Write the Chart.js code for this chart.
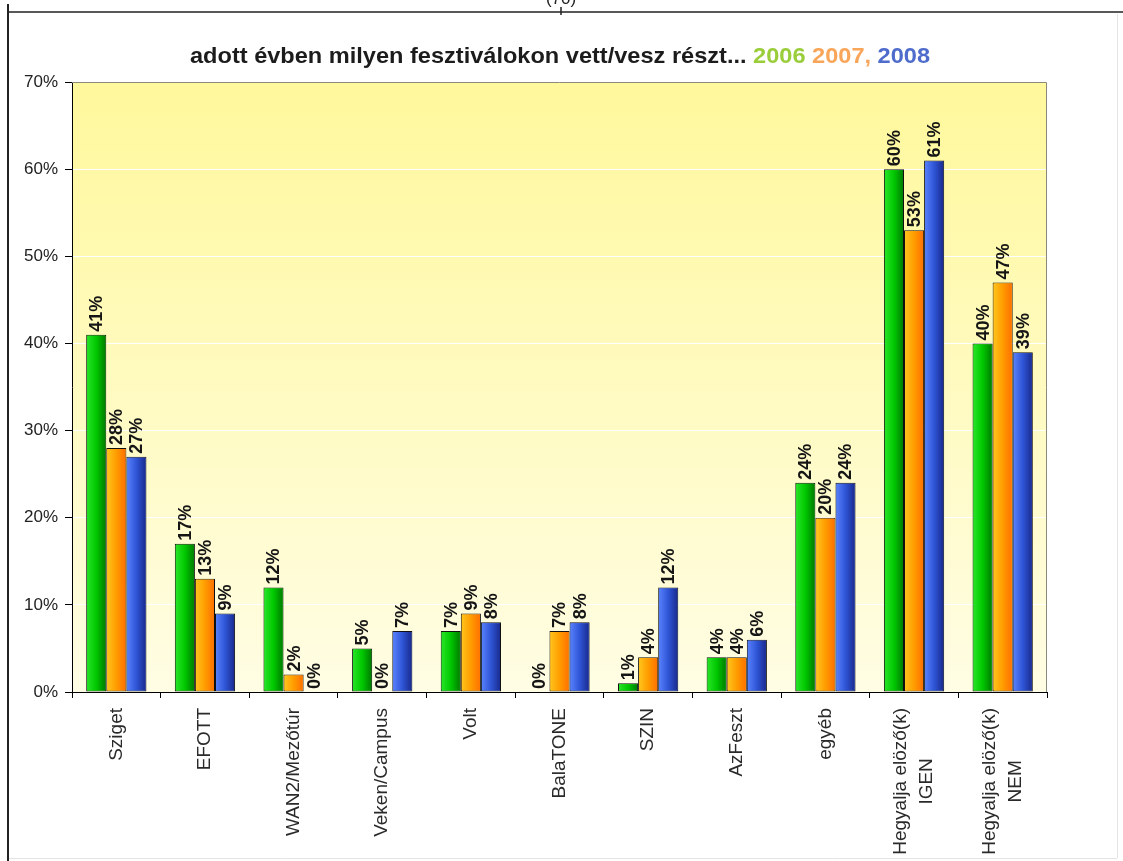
<!DOCTYPE html>
<html><head><meta charset="utf-8">
<script src="https://cdn.jsdelivr.net/npm/chart.js@4.4.1/dist/chart.umd.min.js"></script>
<style>html,body{margin:0;padding:0;background:#fff}#wrap{width:1123px;height:861px;position:relative}</style>
</head><body><div id="wrap"><canvas id="c"></canvas></div>
<script>
const categories = ['Sziget','EFOTT','WAN2/Mezőtúr','Veken/Campus','Volt','BalaTONE','SZIN','AzFeszt','egyéb',['Hegyalja elöző(k)','IGEN'],['Hegyalja elöző(k)','NEM']];
const seriesNames = ['2006','2007','2008'];
const values2006 = [41,17,12,5,7,0,1,4,24,60,40];
const values2007 = [28,13,2,0,9,7,4,4,20,53,47];
const values2008 = [27,9,0,7,8,8,12,6,24,61,39];
const yTicks = [0,10,20,30,40,50,60,70];
const titleParts = [['adott évben milyen fesztiválokon vett/vesz részt... ','#1c1c1c'],['2006','#9ACD3A'],[' ',''],['2007,','#F9A65A'],[' 2008','#4E6CCB']];
const pageNumber = '(70)';

const FONT = '"Liberation Sans", Arial, sans-serif';
const solid = ['#00C000','#FF9A00','#2E52D0'];
const grads = [
  ['#2AE62A','#00C800','#007800'],
  ['#FFC81E','#FF9C00','#FF6E00'],
  ['#5A84FF','#2F55D6','#18288A']
];

const pagePlugin = {
  id:'page',
  beforeDraw(chart){
    const ctx = chart.ctx, a = chart.chartArea;
    ctx.save();
    ctx.fillStyle = '#fff'; ctx.fillRect(0,0,chart.width,chart.height);
    // faint page edges
    ctx.strokeStyle = '#e4e4e4'; ctx.lineWidth = 1;
    ctx.beginPath(); ctx.moveTo(1117.5,14); ctx.lineTo(1117.5,858); ctx.moveTo(8,858.5); ctx.lineTo(1117,858.5); ctx.stroke();
    // page frame
    ctx.strokeStyle = '#222'; ctx.lineWidth = 2;
    ctx.beginPath(); ctx.moveTo(8,4); ctx.lineTo(8,861); ctx.stroke();
    ctx.lineWidth = 1.5;
    ctx.beginPath(); ctx.moveTo(8,12); ctx.lineTo(1123,12); ctx.moveTo(561,7); ctx.lineTo(561,15); ctx.stroke();
    ctx.fillStyle = '#222'; ctx.font = '17px ' + FONT; ctx.textAlign = 'center'; ctx.textBaseline = 'alphabetic';
    ctx.fillText(pageNumber, 561, 4);
    // plot background
    const g = ctx.createLinearGradient(0,a.top,0,a.bottom);
    g.addColorStop(0,'#FFF89C'); g.addColorStop(1,'#FFFDE4');
    ctx.fillStyle = g; ctx.fillRect(a.left,a.top,a.right-a.left,a.bottom-a.top);
    // title
    ctx.font = 'bold 22px ' + FONT;
    let total = 0; titleParts.forEach(p=>{ total += ctx.measureText(p[0]).width; });
    const targetW = 740, sx = targetW/total;
    ctx.translate(190, 63); ctx.scale(sx,1);
    ctx.textAlign = 'left'; ctx.textBaseline = 'alphabetic';
    let x = 0;
    titleParts.forEach(p=>{ if(p[1]){ ctx.fillStyle = p[1]; ctx.fillText(p[0], x, 0);} x += ctx.measureText(p[0]).width; });
    ctx.restore();
  },
  beforeDatasetsDraw(chart){
    const ctx = chart.ctx, a = chart.chartArea;
    ctx.save();
    ctx.strokeStyle = '#8a8a7a'; ctx.lineWidth = 1;
    ctx.beginPath(); ctx.moveTo(a.left, a.top+0.5); ctx.lineTo(a.right-0.5, a.top+0.5); ctx.lineTo(a.right-0.5, a.bottom); ctx.stroke();
    ctx.restore();
  },
  afterDatasetDraw(chart, args){
    const ctx = chart.ctx, meta = args.meta, di = args.index;
    ctx.save();
    meta.data.forEach(el=>{
      const p = el.getProps(['x','y','base','width'], true);
      const left = p.x - p.width/2, top = Math.min(p.y,p.base), h = Math.abs(p.base-p.y);
      if (h < 2) return;
      const g = ctx.createLinearGradient(left,0,left+p.width,0);
      g.addColorStop(0,grads[di][0]); g.addColorStop(0.5,grads[di][1]); g.addColorStop(1,grads[di][2]);
      ctx.fillStyle = g;
      ctx.fillRect(left+1, top+1, p.width-2, h-2);
    });
    ctx.restore();
  },
  afterDatasetsDraw(chart){
    const ctx = chart.ctx;
    ctx.save();
    ctx.font = 'bold 18px ' + FONT; ctx.fillStyle = '#151515';
    ctx.textAlign = 'left'; ctx.textBaseline = 'middle';
    chart.data.datasets.forEach((ds,di)=>{
      const meta = chart.getDatasetMeta(di);
      meta.data.forEach((el,i)=>{
        const p = el.getProps(['x','y'], true);
        ctx.save(); ctx.translate(p.x+1, p.y-3); ctx.rotate(-Math.PI/2);
        ctx.fillText(ds.data[i] + '%', 0, 0); ctx.restore();
      });
    });
    ctx.restore();
  },
  afterDraw(chart){
    const ctx = chart.ctx, xs = chart.scales.x;
    ctx.save();
    ctx.font = '19px ' + FONT; ctx.fillStyle = '#2a2a2a';
    categories.forEach((lab,i)=>{
      const lines = Array.isArray(lab) ? lab : [lab];
      const x = xs.getPixelForTick(i);
      const widths = lines.map(l=>ctx.measureText(l).width);
      const maxW = Math.max(...widths);
      const lh = 26;
      lines.forEach((l,k)=>{
        ctx.save();
        ctx.translate(x + (k-(lines.length-1)/2)*lh, xs.top + 16);
        ctx.rotate(-Math.PI/2);
        ctx.textAlign = 'right'; ctx.textBaseline = 'middle';
        ctx.fillText(l, -(maxW-widths[k])/2, 0);
        ctx.restore();
      });
    });
    ctx.restore();
  }
};

const chart = new Chart(document.getElementById('c'), {
  type:'bar',
  data:{
    labels: categories,
    datasets:[
      {label:seriesNames[0], data:values2006, backgroundColor:solid[0]},
      {label:seriesNames[1], data:values2007, backgroundColor:solid[1]},
      {label:seriesNames[2], data:values2008, backgroundColor:solid[2]}
    ]
  },
  options:{
    responsive:true, maintainAspectRatio:false, animation:false,
    layout:{padding:{left:8,right:76,top:82,bottom:0}},
    datasets:{bar:{categoryPercentage:0.68, barPercentage:1, borderColor:'#111', borderWidth:1, borderSkipped:false}},
    plugins:{legend:{display:false}, tooltip:{enabled:false}, title:{display:false}},
    scales:{
      x:{
        offset:true,
        ticks:{display:false},
        grid:{offset:true, drawOnChartArea:false, tickColor:'#000', tickLength:6},
        border:{color:'#000', width:1},
        afterFit(s){ s.height = 169; }
      },
      y:{
        min:0, max:70,
        afterBuildTicks(s){ s.ticks = yTicks.map(v=>({value:v})); },
        ticks:{callback:v=>v+'%', font:{family:FONT, size:17}, color:'#222', padding:7},
        grid:{color:'#ffffff', lineWidth:1, tickColor:'#000', tickLength:7},
        border:{color:'#000', width:1},
        afterFit(s){ s.width = 64; }
      }
    }
  },
  plugins:[pagePlugin]
});
</script>
</body></html>
